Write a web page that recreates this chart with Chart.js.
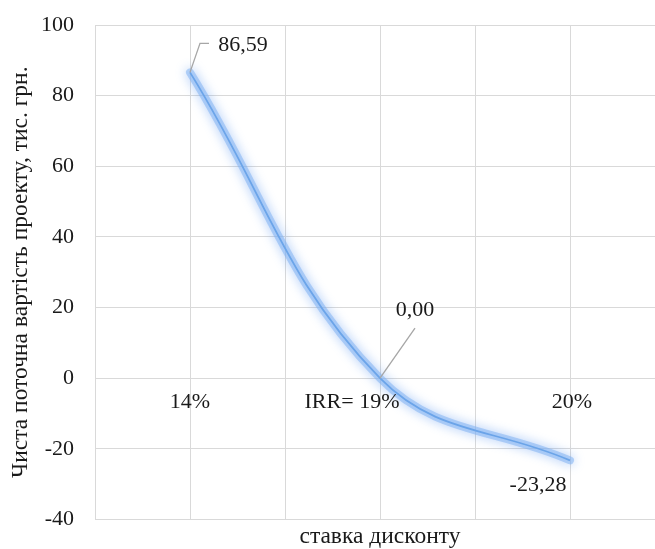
<!DOCTYPE html>
<html>
<head>
<meta charset="utf-8">
<script src="https://cdn.jsdelivr.net/npm/chart.js@4/dist/chart.umd.min.js"></script>
<style>
  html, body { margin: 0; padding: 0; background: #fff; overflow: hidden; }
  #wrap { width: 655px; height: 549px; overflow: hidden; }
  #c { display: block; }
</style>
</head>
<body>
<div id="wrap"><canvas id="c" width="665" height="549"></canvas></div>
<script>
// Discount rates (category labels) and net present value at each rate
const categories = ['14%', 'IRR= 19%', '20%'];
const npvValues = [86.59, 0.00, -23.28];
const yTickMin = -40;
const yTickMax = 100;
const yTickStep = 20;

const FONT = "'Liberation Serif', 'Times New Roman', serif";
const TEXT = '#1a1a1a';
const GRID = '#d9d9d9';

const points = npvValues.map((v, i) => ({ x: i + 1, y: v }));

// soft blue glow under the line
const glowPlugin = {
  id: 'glow',
  beforeDatasetDraw(chart, args) {
    const ds = chart.data.datasets[args.index];
    chart.ctx.save();
    if (ds.glow) {
      chart.ctx.shadowColor = 'rgba(90,150,240,0.9)';
      chart.ctx.shadowBlur = 11;
    }
  },
  afterDatasetDraw(chart) {
    chart.ctx.restore();
  }
};

// category labels sit just under the zero line
const categoryLabels = {
  id: 'categoryLabels',
  afterDraw(chart, args, opts) {
    const ctx = chart.ctx;
    const xs = chart.scales.x, ys = chart.scales.y;
    const y0 = ys.getPixelForValue(0);
    ctx.save();
    ctx.font = '22px ' + FONT;
    ctx.fillStyle = TEXT;
    ctx.textAlign = 'center';
    ctx.textBaseline = 'middle';
    categories.forEach((c, i) => {
      ctx.fillText(c, xs.getPixelForValue(i + 1) + opts.shift[i], y0 + opts.gap);
    });
    ctx.restore();
  }
};

// value labels with leader lines
const valueLabels = {
  id: 'valueLabels',
  afterDatasetsDraw(chart, args, opts) {
    const ctx = chart.ctx;
    const meta = chart.getDatasetMeta(1);
    ctx.save();
    ctx.font = '22px ' + FONT;
    ctx.fillStyle = TEXT;
    ctx.textAlign = 'center';
    ctx.textBaseline = 'middle';
    meta.data.forEach((pt, i) => {
      const o = opts.offsets[i];
      const text = npvValues[i].toFixed(2).replace('.', ',');
      if (o.leader) {
        ctx.strokeStyle = '#a6a6a6';
        ctx.lineWidth = 1.3;
        ctx.beginPath();
        ctx.moveTo(pt.x, pt.y);
        o.leader.forEach(([ax, ay]) => ctx.lineTo(pt.x + ax, pt.y + ay));
        ctx.stroke();
      }
      ctx.fillText(text, pt.x + o.dx, pt.y + o.dy);
    });
    ctx.restore();
  }
};

new Chart(document.getElementById('c'), {
  type: 'line',
  data: {
    datasets: [
      {
        data: points,
        glow: true,
        borderColor: 'rgba(130,178,242,0.55)',
        borderWidth: 8,
        borderCapStyle: 'round',
        tension: 0.4,
        pointRadius: 0
      },
      {
        data: points,
        borderColor: '#4f93d6',
        borderWidth: 1.8,
        tension: 0.4,
        pointRadius: 0
      }
    ]
  },
  options: {
    responsive: false,
    animation: false,
    clip: false,
    layout: { padding: { left: 3, right: 0, top: 25, bottom: 0 } },
    plugins: {
      legend: { display: false },
      tooltip: { enabled: false },
      categoryLabels: { shift: [0, -28, 2], gap: 24 },
      valueLabels: {
        offsets: [
          { dx: 53, dy: -27, leader: [[10, -29], [19, -29]] },
          { dx: 35, dy: -68, leader: [[35, -50]] },
          { dx: -32, dy: 25, leader: null }
        ]
      }
    },
    scales: {
      x: {
        type: 'linear',
        position: 'bottom',
        min: 0.5,
        max: 3.5,
        ticks: { display: false, stepSize: 0.5 },
        grid: { color: GRID, lineWidth: 1, drawTicks: false },
        border: { display: false },
        title: {
          display: true,
          text: 'ставка дисконту',
          color: TEXT,
          font: { family: FONT, size: 23.5, lineHeight: 1 },
          padding: { top: 6, bottom: 0 }
        }
      },
      y: {
        type: 'linear',
        min: yTickMin,
        max: yTickMax,
        ticks: {
          stepSize: yTickStep,
          padding: 10,
          color: TEXT,
          font: { family: FONT, size: 22 }
        },
        grid: {
          color: GRID,
          lineWidth: 1,
          drawTicks: true,
          tickLength: 11,
          tickColor: 'rgba(0,0,0,0)'
        },
        border: { display: false },
        title: {
          display: true,
          text: 'Чиста поточна вартість проекту, тис. грн.',
          color: TEXT,
          font: { family: FONT, size: 23.5, lineHeight: 1 },
          padding: { top: 6.25, bottom: -1.75 }
        }
      }
    }
  },
  plugins: [glowPlugin, categoryLabels, valueLabels]
});
</script>
</body>
</html>
